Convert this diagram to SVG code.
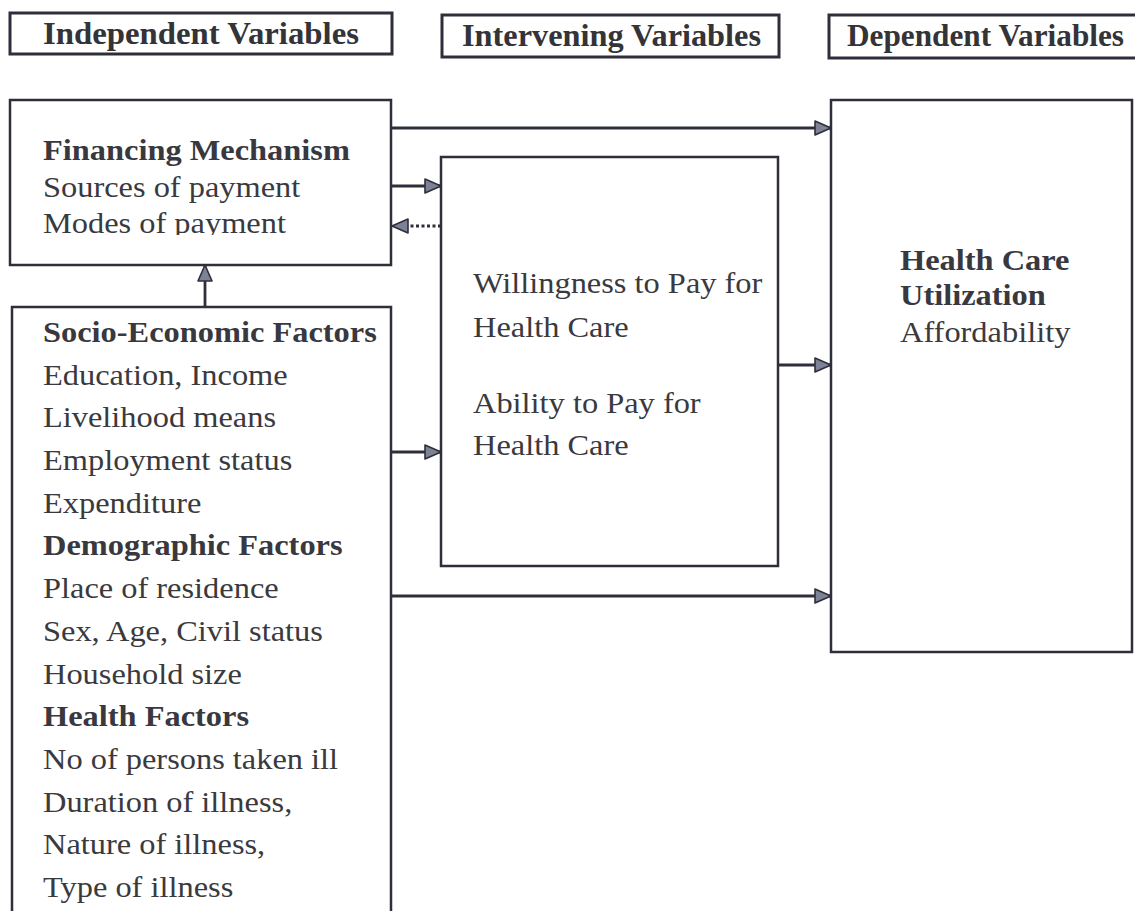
<svg xmlns="http://www.w3.org/2000/svg" width="1135" height="911" viewBox="0 0 1135 911">
<style>
.box{fill:none;stroke:#2e2f3a;stroke-width:2.5}
.hbox{fill:none;stroke:#2e2f3a;stroke-width:3}
.t{font-family:"Liberation Serif","Times New Roman",serif;font-size:30px;fill:#3a3a3e}
.b{font-weight:bold;fill:#38383e}
.h{font-family:"Liberation Serif","Times New Roman",serif;font-size:31px;font-weight:bold;fill:#333338}
.c{fill:none;stroke:#2e2f3a;stroke-width:2.8}
.d{fill:none;stroke:#2e2f3a;stroke-width:2.8;stroke-dasharray:3 2.5}
</style>
<defs>
<marker id="ah" viewBox="0 0 18 16" refX="17" refY="8" markerWidth="18" markerHeight="16" markerUnits="userSpaceOnUse" orient="auto">
<path d="M1,1 L17,8 L1,15 Z" fill="#7d8296" stroke="#2e2f3a" stroke-width="1.6" stroke-linejoin="round"/>
</marker>
<clipPath id="cut"><rect x="0" y="195" width="400" height="40"/></clipPath>
</defs>
<rect width="1135" height="911" fill="#ffffff"/>

<g id="hdr-independent">
<rect class="hbox" x="10" y="13" width="382" height="41"/>
<text class="h" x="43" y="44" textLength="316" lengthAdjust="spacingAndGlyphs">Independent Variables</text>
</g>
<g id="hdr-intervening">
<rect class="hbox" x="442" y="15" width="337" height="42"/>
<text class="h" x="462" y="46" textLength="299" lengthAdjust="spacingAndGlyphs">Intervening Variables</text>
</g>
<g id="hdr-dependent">
<rect class="hbox" x="829" y="15" width="330" height="43"/>
<text class="h" x="847" y="46" textLength="277" lengthAdjust="spacingAndGlyphs">Dependent Variables</text>
</g>

<g id="financing">
<rect class="box" x="10" y="100" width="381" height="165"/>
<g transform="translate(43 0) scale(1.08 1)">
<text class="t b" x="0" y="160">Financing Mechanism</text>
<text class="t" x="0" y="197">Sources of payment</text>
</g>
<g clip-path="url(#cut)">
<text class="t" x="0" y="233" transform="translate(43 0) scale(1.08 1)">Modes of payment</text>
</g>
</g>

<g id="socio">
<rect class="box" x="12" y="307" width="379" height="620"/>
<g transform="translate(43 0) scale(1.08 1)">
<text class="t b" x="0" y="342">Socio-Economic Factors</text>
<text class="t" x="0" y="384.7">Education, Income</text>
<text class="t" x="0" y="427.4">Livelihood means</text>
<text class="t" x="0" y="470.1">Employment status</text>
<text class="t" x="0" y="512.8">Expenditure</text>
<text class="t b" x="0" y="555.5">Demographic Factors</text>
<text class="t" x="0" y="598.2">Place of residence</text>
<text class="t" x="0" y="640.9">Sex, Age, Civil status</text>
<text class="t" x="0" y="683.6">Household size</text>
<text class="t b" x="0" y="726.3">Health Factors</text>
<text class="t" x="0" y="769">No of persons taken ill</text>
<text class="t" x="0" y="811.7">Duration of illness,</text>
<text class="t" x="0" y="854.4">Nature of illness,</text>
<text class="t" x="0" y="897.1">Type of illness</text>
</g>
</g>

<g id="intervening">
<rect class="box" x="441" y="157" width="337" height="409"/>
<g transform="translate(473 0) scale(1.08 1)">
<text class="t" x="0" y="293">Willingness to Pay for</text>
<text class="t" x="0" y="337">Health Care</text>
<text class="t" x="0" y="413">Ability to Pay for</text>
<text class="t" x="0" y="455">Health Care</text>
</g>
</g>

<g id="dependent">
<rect class="box" x="831" y="100" width="301" height="552"/>
<g transform="translate(900 0) scale(1.08 1)">
<text class="t b" x="0" y="270">Health Care</text>
<text class="t b" x="0" y="305">Utilization</text>
<text class="t" x="0" y="342">Affordability</text>
</g>
</g>

<g id="connectors">
<line class="c" x1="391" y1="128" x2="831" y2="128" marker-end="url(#ah)"/>
<line class="c" x1="391" y1="186" x2="441" y2="186" marker-end="url(#ah)"/>
<line class="d" x1="441" y1="226" x2="392" y2="226" marker-end="url(#ah)"/>
<line class="c" x1="205" y1="307" x2="205" y2="265" marker-end="url(#ah)"/>
<line class="c" x1="391" y1="452" x2="441" y2="452" marker-end="url(#ah)"/>
<line class="c" x1="778" y1="365" x2="831" y2="365" marker-end="url(#ah)"/>
<line class="c" x1="391" y1="596" x2="831" y2="596" marker-end="url(#ah)"/>
</g>
</svg>
